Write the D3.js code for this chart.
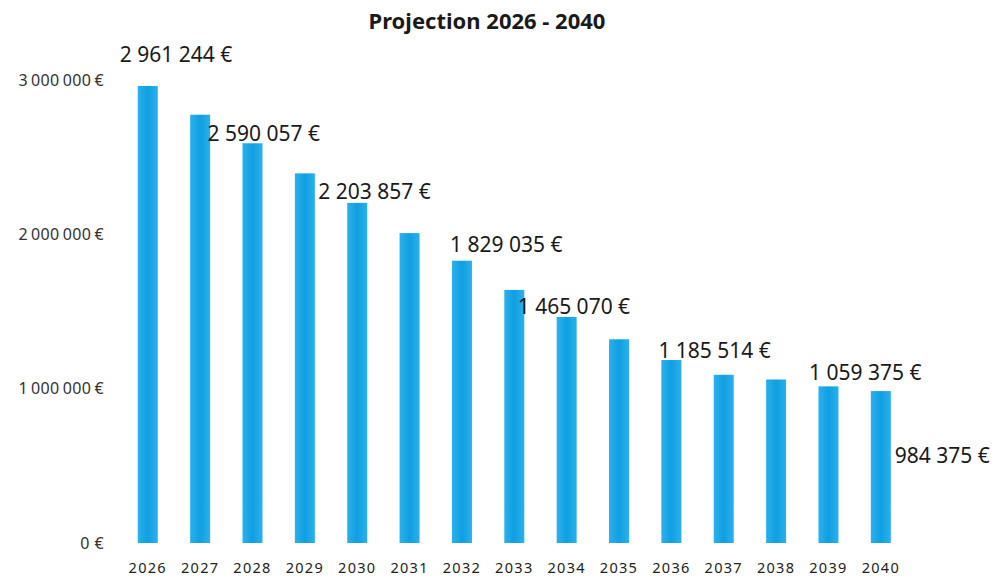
<!DOCTYPE html>
<html>
<head>
<meta charset="utf-8">
<script src="https://cdn.jsdelivr.net/npm/d3@7"></script>
<style>
  body { margin: 0; background: #fff; }
  svg { display: block; font-family: "Noto Sans", "Open Sans", sans-serif; }
</style>
</head>
<body>
<svg></svg>
<script>
var width = 998;
var height = 578;

// Data
var years = ["2026", "2027", "2028", "2029", "2030", "2031", "2032", "2033",
             "2034", "2035", "2036", "2037", "2038", "2039", "2040"];
var values = [2961244, 2775000, 2590057, 2395000, 2203857, 2008000, 1829035, 1640000,
              1465070, 1320000, 1185514, 1090000, 1059375, 1015000, 984375];
var labelledYears = ["2026", "2028", "2030", "2032", "2034", "2036", "2038", "2040"];
var yTicks = [0, 1000000, 2000000, 3000000];

// label offsets from the top of each labelled bar (layout only)
var labelOffsets = [[-28, -32], [-45, -10], [-39, -12], [-12, -17],
                    [-49, -11], [-13, -10], [33, -8], [14, 64]];

var fmt = d => d3.format(",")(d).replace(/,/g, " ") + " \u20AC";

var svg = d3.select("svg")
            .attr("width", width)
            .attr("height", height);

var xScale = d3.scaleBand()
               .domain(years)
               .range([121.6, 907])
               .paddingInner(0.618)
               .paddingOuter(0.309);

var yScale = d3.scaleLinear()
               .domain([0, 3000000])
               .range([543, 80]);

// subtle shading across each bar
var grad = svg.append("defs")
  .append("linearGradient")
    .attr("id", "barGrad")
    .attr("x1", "0").attr("x2", "1").attr("y1", "0").attr("y2", "0");
grad.append("stop").attr("offset", "0%").attr("stop-color", "#2ab1ee");
grad.append("stop").attr("offset", "50%").attr("stop-color", "#109fe0");
grad.append("stop").attr("offset", "100%").attr("stop-color", "#2ab1ee");

svg.selectAll("rect.bar")
  .data(years)
  .enter()
  .append("rect")
    .attr("class", "bar")
    .attr("x", d => xScale(d))
    .attr("width", xScale.bandwidth())
    .attr("y", (d, i) => yScale(values[i]))
    .attr("height", (d, i) => yScale(0) - yScale(values[i]))
    .attr("fill", "url(#barGrad)");

// Y axis (labels only)
var yAxis = d3.axisLeft(yScale)
              .tickValues(yTicks)
              .tickSize(0)
              .tickPadding(0)
              .tickFormat(d => d === 0 ? "0 \u20AC" : fmt(d).replace(/ /g, "\u2009"));

var yG = svg.append("g")
  .attr("transform", "translate(104,0)")
  .call(yAxis);
yG.select(".domain").remove();
yG.selectAll("text")
  .attr("font-size", "16px")
  .attr("font-family", "'Noto Sans', sans-serif")
  .attr("letter-spacing", "0.4px")
  .attr("fill", "#333");

// X axis (labels only)
var xAxis = d3.axisBottom(xScale)
              .tickSize(0)
              .tickPadding(0);

var xG = svg.append("g")
  .attr("transform", "translate(0,563)")
  .call(xAxis);
xG.select(".domain").remove();
xG.selectAll("text")
  .attr("font-size", "14.5px")
  .attr("font-family", "'Noto Sans', sans-serif")
  .attr("letter-spacing", "1.3px")
  .attr("fill", "#222");

// value labels
svg.selectAll("text.val")
  .data(labelledYears)
  .enter()
  .append("text")
    .attr("class", "val")
    .attr("x", (d, i) => xScale(d) + xScale.bandwidth() / 2 + labelOffsets[i][0])
    .attr("y", (d, i) => yScale(values[years.indexOf(d)]) + labelOffsets[i][1])
    .attr("dominant-baseline", "central")
    .attr("font-size", "21px")
    .attr("fill", "#1a1a1a")
    .text(d => fmt(values[years.indexOf(d)]));

// title
svg.append("text")
  .attr("x", 487)
  .attr("y", 20)
  .attr("dominant-baseline", "central")
  .attr("text-anchor", "middle")
  .attr("font-size", "22px")
  .attr("font-weight", "bold")
  .attr("fill", "#1a1a1a")
  .text("Projection 2026 - 2040");
</script>
</body>
</html>
